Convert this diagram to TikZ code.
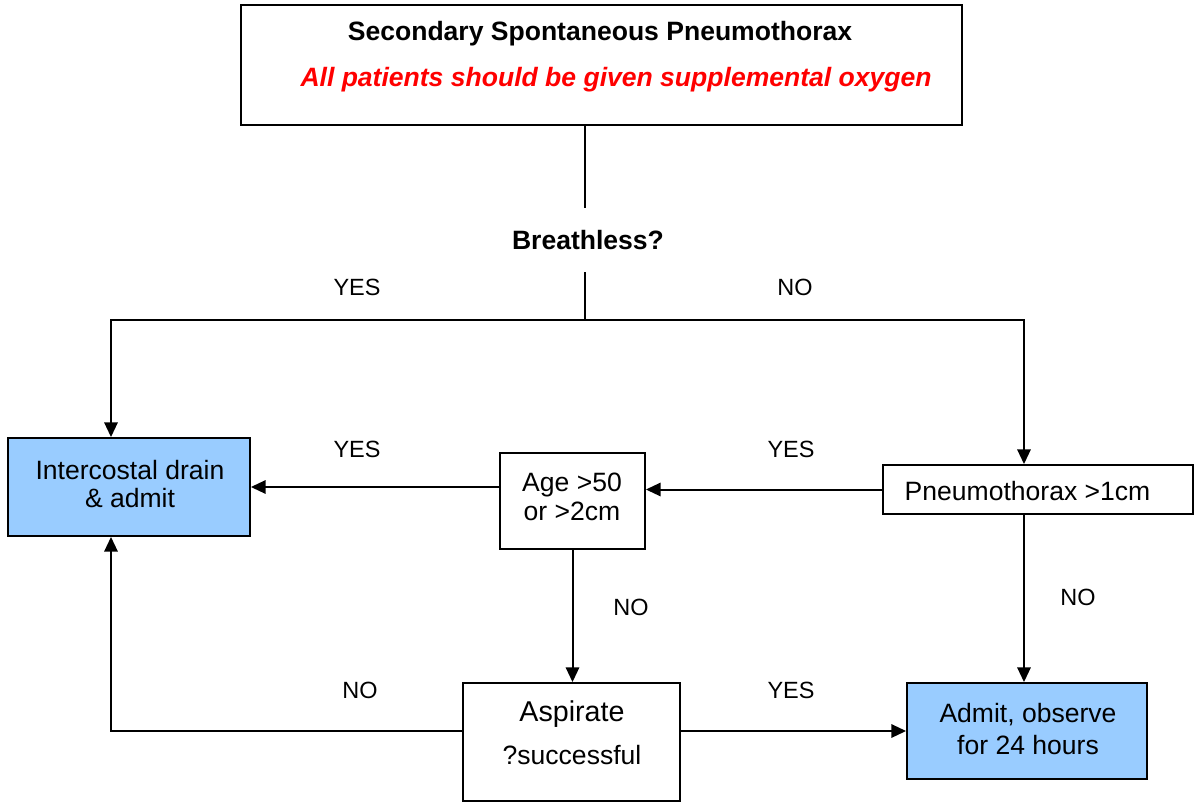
\documentclass[tikz,border=0pt]{standalone}
\usepackage{fontspec}
\setmainfont{Liberation Sans}
\usetikzlibrary{arrows.meta}
\definecolor{boxblue}{HTML}{99CCFF}
\definecolor{alertred}{HTML}{FF0000}
\begin{document}
\begin{tikzpicture}[x=0.75pt,y=-0.75pt,
  box/.style={draw=black,line width=1.4pt,rectangle,inner sep=0pt,align=center,
    font=\fontsize{19.9}{21}\selectfont},
  bluebox/.style={box,fill=boxblue},
  txt/.style={inner sep=0pt,align=center,font=\fontsize{19.9}{21}\selectfont},
  lbl/.style={inner sep=0pt,font=\fontsize{17.6}{20}\selectfont},
  conn/.style={line width=1.5pt},
  arr/.style={conn,-{Triangle[length=11pt,width=10pt]}}]
\useasboundingbox (0,0) rectangle (1195,803);
% boxes
\node[box,minimum width=721*0.75pt,minimum height=120*0.75pt] (title) at (601.5,65) {};
\node[txt,font=\fontsize{19.9}{23}\selectfont\bfseries] (ttl) at (600,34) {Secondary Spontaneous Pneumothorax};
\node[txt,text=alertred,font=\fontsize{19.9}{23}\selectfont\bfseries\itshape] (oxy) at (616,80) {All patients should be given supplemental oxygen};
\node[txt,font=\fontsize{19.9}{23}\selectfont\bfseries,minimum height=64*0.75pt] (brk) at (588,240) {Breathless?};
\node[bluebox,minimum width=242*0.75pt,minimum height=98*0.75pt] (icd) at (129,487) {};
\node[txt] (icdt) at (130,484) {Intercostal drain\\\& admit};
\node[box,minimum width=145*0.75pt,minimum height=96*0.75pt] (age) at (572.5,501) {};
\node[txt] (aget) at (572,497) {Age >50\\[0.5pt]or >2cm};
\node[box,minimum width=310*0.75pt,minimum height=49*0.75pt] (pnx) at (1038,489.5) {};
\node[txt] (pnxt) at (1027.5,491) {Pneumothorax >1cm};
\node[box,minimum width=217*0.75pt,minimum height=118*0.75pt] (asp) at (571.5,742) {};
\node[txt,font=\fontsize{21.5}{25}\selectfont] (aspt) at (572,714) {Aspirate};
\node[txt] (succ) at (572,755) {?successful};
\node[bluebox,minimum width=240*0.75pt,minimum height=96*0.75pt] (adm) at (1027,731) {};
\node[txt] (admt) at (1028,729) {Admit, observe\\[3pt]for 24 hours};
% coordinates
\coordinate (split) at (585,320);
\coordinate (L) at (111,320);
\coordinate (R) at (1024,320);
% connectors
\draw[conn] (title.south -| split) -- (brk.north -| split);
\draw[conn] (brk.south -| split) -- (split);
\draw[arr] (split) -- (L) -- (L |- icd.north);
\draw[arr] (split) -- (R) -- (R |- pnx.north);
\draw[arr] (pnx.west) -- (pnx.west -| age.east);
\draw[arr] (age.west |- icd.east) -- (icd.east);
\draw[arr] (age.south) -- (age.south |- asp.north);
\draw[arr] (R |- pnx.south) -- (R |- adm.north);
\draw[arr] (asp.east |- adm.west) -- (adm.west);
\draw[arr] (asp.west |- adm.west) -- (L |- adm.west) -- (L |- icd.south);
% labels
\node[lbl] (l1) at (357,287) {YES};
\node[lbl] (l2) at (795,287) {NO};
\node[lbl] (l3) at (357,449) {YES};
\node[lbl] (l4) at (791,449) {YES};
\node[lbl] (l5) at (631,607) {NO};
\node[lbl] (l6) at (1078,597) {NO};
\node[lbl] (l7) at (360,690) {NO};
\node[lbl] (l8) at (791,690) {YES};
\end{tikzpicture}
\end{document}
